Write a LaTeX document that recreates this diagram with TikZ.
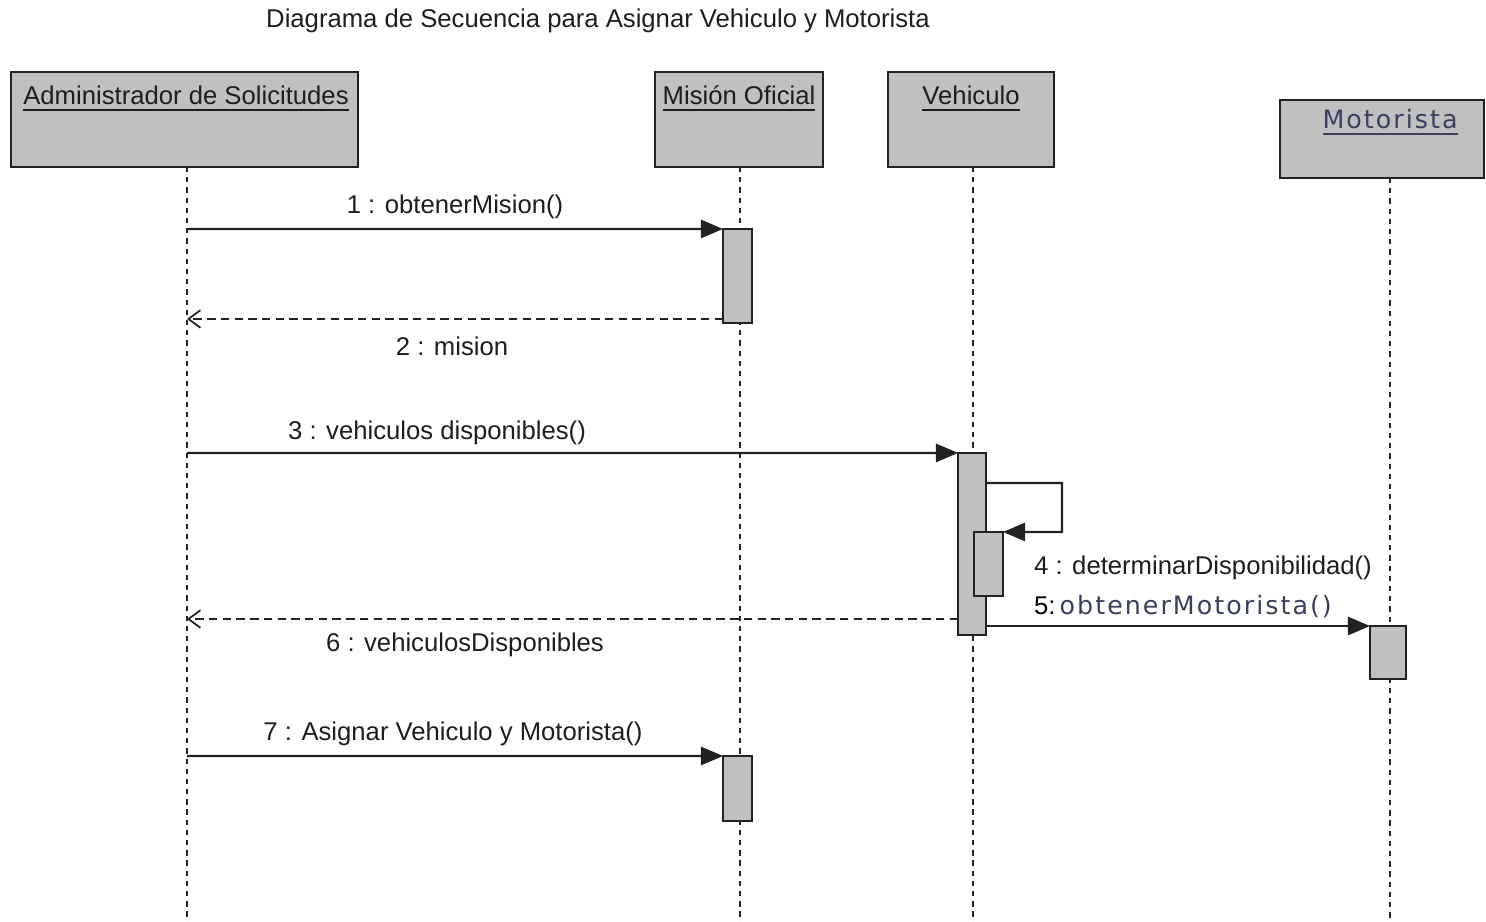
\documentclass[tikz,border=0pt]{standalone}
\usepackage{fontspec}
\setmainfont{Liberation Sans}
\newfontfamily\wideface[LetterSpace=8]{DejaVu Sans}
\usetikzlibrary{arrows.meta}
\definecolor{boxfill}{HTML}{C0C0C0}
\definecolor{edge}{HTML}{222222}
\definecolor{ink}{HTML}{1E1E1E}
\definecolor{bluish}{HTML}{3A3F5E}
\begin{document}
\begin{tikzpicture}[x=0.01cm, y=-0.01cm,
  every node/.style={inner sep=0pt, outer sep=0pt},
  txt/.style={text=ink, font=\fontsize{7.3}{8.5}\selectfont},
  actor/.style={draw=edge, fill=boxfill, line width=0.75pt},
  actbar/.style={draw=edge, fill=boxfill, line width=0.65pt},
  lifeline/.style={draw=edge, line width=0.8pt, dash pattern=on 1.5pt off 1.4pt},
  msg/.style={draw=edge, line width=0.6pt, -{Triangle[length=6.3pt, width=5.2pt]}},
  reply/.style={draw=edge, line width=0.6pt, dash pattern=on 2.4pt off 1.5pt,
    -{Straight Barb[length=3.4pt, width=5pt, line width=0.5pt]}}
]
\useasboundingbox (0,0) rectangle (1486,922);
\fill[white] (0,0) rectangle (1486,922);

% title
\node[txt] (title) at (598,21) {Diagrama de Secuencia para Asignar Vehiculo y Motorista};

% participant heads
\node[actor, minimum width=3.47cm, minimum height=0.95cm] (admin) at (184.5,119.5) {};
\node[actor, minimum width=1.68cm, minimum height=0.95cm] (mision) at (739,119.5) {};
\node[actor, minimum width=1.66cm, minimum height=0.95cm] (vehiculo) at (971,119.5) {};
\node[actor, minimum width=2.04cm, minimum height=0.78cm] (motorista) at (1382,139) {};

\node[txt] (adminlbl) at (186,99) {\underline{Administrador de Solicitudes}};
\node[txt] (misionlbl) at (739,99) {\underline{Misión Oficial}};
\node[txt] (vehiculolbl) at (971,99) {\underline{Vehiculo}};
\node[text=bluish, font=\wideface\fontsize{7.2}{8}\selectfont] (motoristalbl) at (1390,123) {\underline{Motorista}};

% lifeline ends
\coordinate (adminT) at (187,167);   \coordinate (adminB) at (187,922);
\coordinate (misionT) at (740,167);  \coordinate (misionB) at (740,922);
\coordinate (vehT) at (973,167);     \coordinate (vehB) at (973,922);
\coordinate (motT) at (1390,178);    \coordinate (motB) at (1390,922);

\draw[lifeline] (adminT) -- (adminB);
\draw[lifeline] (misionT) -- (misionB);
\draw[lifeline] (vehT) -- (vehB);
\draw[lifeline] (motT) -- (motB);

% activation bars
\node[actbar, minimum width=0.29cm, minimum height=0.94cm] (act1) at (737.5,276) {};
\node[actbar, minimum width=0.28cm, minimum height=1.82cm] (actV) at (972,544) {};
\node[actbar, minimum width=0.29cm, minimum height=0.64cm] (actV2) at (988.5,564) {};
\node[actbar, minimum width=0.36cm, minimum height=0.53cm] (actM) at (1388,652.5) {};
\node[actbar, minimum width=0.29cm, minimum height=0.65cm] (act7) at (737.5,788.5) {};

% message start points on the caller's lifeline
\coordinate (s1) at (187,229);
\coordinate (r2) at (187,319);
\coordinate (s3) at (187,453);
\coordinate (r6) at (187,619);
\coordinate (s7) at (187,756);
\coordinate (loopA) at (1062,483);
\coordinate (loopB) at (1062,532);

% 1: obtenerMision
\draw[msg] (s1) -- (act1.north west);
\node[txt] (l1) at (455,207) {1 : obtenerMision()};

% 2: mision
\draw[reply] (act1.west |- r2) -- (r2);
\node[txt] (l2) at (452,346) {2 : mision};

% 3: vehiculos disponibles
\draw[msg] (s3) -- (actV.north west);
\node[txt] (l3) at (437,433) {3 : vehiculos disponibles()};

% 4: self call
\draw[msg] (actV.east |- loopA) -- (loopA) -- (loopB) -- (actV2.north east);
\node[txt] (l4) at (1203,568) {4 : determinarDisponibilidad()};

% 5: obtenerMotorista
\draw[msg] (actV.east |- actM.north) -- (actM.north west);
\node[anchor=west] (l5) at (1034,607) {\color{black}\fontsize{7.3}{8.5}\selectfont 5:\,\color{bluish}\wideface\fontsize{7.2}{8}\selectfont obtenerMotorista()};

% 6: vehiculosDisponibles
\draw[reply] (actV.west |- r6) -- (r6);
\node[txt] (l6) at (465,645) {6 : vehiculosDisponibles};

% 7: Asignar Vehiculo y Motorista
\draw[msg] (s7) -- (act7.north west);
\node[txt] (l7) at (453,734) {7 : Asignar Vehiculo y Motorista()};
\end{tikzpicture}
\end{document}
